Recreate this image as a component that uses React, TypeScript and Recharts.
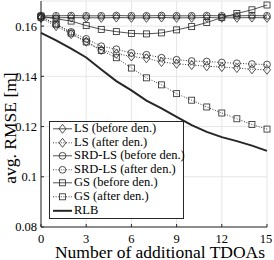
import React from 'react';
import { LineChart, Line, XAxis, YAxis, CartesianGrid, Legend } from 'recharts';

// number of additional TDOAs
const tdoas = [0, 1, 2, 3, 4, 5, 6, 7, 8, 9, 10, 11, 12, 13, 14, 15];

const lsBefore = [0.1634, 0.1633, 0.1634, 0.1633, 0.1633, 0.1634, 0.1633, 0.1633, 0.1634, 0.1633, 0.1633, 0.1634, 0.1633, 0.1633, 0.1634, 0.1633];
const lsAfter = [0.1632, 0.16, 0.1568, 0.1538, 0.1505, 0.149, 0.1479, 0.1472, 0.1457, 0.145, 0.1445, 0.144, 0.1437, 0.1433, 0.1428, 0.1426];
const srdBefore = [0.1641, 0.1641, 0.1642, 0.1641, 0.1641, 0.1642, 0.1641, 0.1641, 0.1642, 0.1641, 0.1641, 0.1642, 0.1641, 0.1641, 0.1642, 0.1641];
const srdAfter = [0.164, 0.1606, 0.1577, 0.1549, 0.152, 0.1508, 0.1493, 0.1486, 0.1474, 0.1466, 0.1461, 0.1459, 0.1455, 0.1452, 0.1449, 0.1447];
const gsBefore = [0.164, 0.1629, 0.162, 0.1602, 0.1587, 0.1578, 0.1571, 0.1569, 0.1573, 0.1585, 0.1598, 0.1614, 0.1634, 0.165, 0.1665, 0.1684];
const gsAfter = [0.1635, 0.1609, 0.1572, 0.1537, 0.1503, 0.1474, 0.1433, 0.1394, 0.1366, 0.1331, 0.1305, 0.1278, 0.1254, 0.1231, 0.1208, 0.119];
const rlb = [0.1573, 0.1543, 0.151, 0.1475, 0.1427, 0.1381, 0.1344, 0.1303, 0.1272, 0.1239, 0.1206, 0.1179, 0.1158, 0.1142, 0.1124, 0.1103];

const xTicks = [0, 3, 6, 9, 12, 15];
const yTicks = [0.08, 0.1, 0.12, 0.14, 0.16];

const FONT = '"Liberation Serif", "Times New Roman", serif';
const INK = '#262626';

type MarkerKind = 'diamond' | 'circle' | 'square' | 'none';

const series: { key: string; name: string; values: number[]; marker: MarkerKind; dotted: boolean; width: number }[] = [
  { key: 'lsB', name: 'LS (before den.)', values: lsBefore, marker: 'diamond', dotted: false, width: 0.8 },
  { key: 'lsA', name: 'LS (after den.)', values: lsAfter, marker: 'diamond', dotted: true, width: 0.9 },
  { key: 'srdB', name: 'SRD-LS (before den.)', values: srdBefore, marker: 'circle', dotted: false, width: 0.8 },
  { key: 'srdA', name: 'SRD-LS (after den.)', values: srdAfter, marker: 'circle', dotted: true, width: 0.9 },
  { key: 'gsB', name: 'GS (before den.)', values: gsBefore, marker: 'square', dotted: false, width: 0.8 },
  { key: 'gsA', name: 'GS (after den.)', values: gsAfter, marker: 'square', dotted: true, width: 0.9 },
  { key: 'rlb', name: 'RLB', values: rlb, marker: 'none', dotted: false, width: 2 },
];

const data = tdoas.map((x, i) => {
  const row: Record<string, number> = { x };
  series.forEach((s) => {
    row[s.key] = s.values[i];
  });
  return row;
});

const Marker = ({ kind, cx, cy }: { kind: MarkerKind; cx?: number; cy?: number }) => {
  if (cx == null || cy == null || kind === 'none') return null;
  if (kind === 'diamond') {
    return (
      <path
        d={`M${cx},${cy - 4.5}L${cx + 3.5},${cy}L${cx},${cy + 4.5}L${cx - 3.5},${cy}Z`}
        fill="none"
        stroke={INK}
        strokeWidth={0.8}
      />
    );
  }
  if (kind === 'circle') {
    return <circle cx={cx} cy={cy} r={3.4} fill="none" stroke={INK} strokeWidth={0.8} />;
  }
  return <rect x={cx - 3} y={cy - 3} width={6} height={6} fill="none" stroke={INK} strokeWidth={0.8} />;
};

// tick labels drawn by hand so the serif font sticks
const XTick = ({ x, payload }: any) => (
  <text x={x} y={243} textAnchor="middle" fontFamily={FONT} fontSize={12.5} fill="#000">
    {payload.value}
  </text>
);

const YTick = ({ y, payload }: any) => (
  <text x={37} y={y + 4.4} textAnchor="end" fontFamily={FONT} fontSize={12.5} fill="#000">
    {String(Number(Number(payload.value).toFixed(2)))}
  </text>
);

const renderLegend = () => (
  <div
    style={{
      width: 135,
      height: 98,
      boxSizing: 'border-box',
      border: `1px solid ${INK}`,
      background: '#fff',
      fontFamily: FONT,
      fontSize: 12.5,
      color: '#000',
    }}
  >
    {series.map((s) => (
      <div key={s.key} style={{ height: 13.6, display: 'flex', alignItems: 'center' }}>
        <svg width={24} height={13.6} style={{ flex: 'none' }}>
          <line
            x1={3}
            x2={22}
            y1={6.8}
            y2={6.8}
            stroke={INK}
            strokeWidth={s.width}
            strokeDasharray={s.dotted ? '1 1.6' : undefined}
          />
          <Marker kind={s.marker} cx={12.5} cy={6.8} />
        </svg>
        <span style={{ whiteSpace: 'nowrap', lineHeight: '13.6px' }}>{s.name}</span>
      </div>
    ))}
  </div>
);

export default function App() {
  return (
    <div style={{ position: 'absolute', left: 0, top: 0, width: 274, height: 260, background: '#fff' }}>
      <LineChart width={274} height={260} data={data} margin={{ top: 1, right: 7, bottom: 0, left: 0 }}>
        <CartesianGrid stroke="#e6e6e6" strokeWidth={1} />
        <XAxis
          dataKey="x"
          type="number"
          domain={[0, 15]}
          ticks={xTicks}
          height={33}
          stroke={INK}
          tickSize={-3}
          tick={<XTick />}
          label={() => (
            <text x={160} y={257.5} textAnchor="middle" fontFamily={FONT} fontSize={17.5} fill="#000">
              Number of additional TDOAs
            </text>
          )}
        />
        <XAxis
          xAxisId="top"
          orientation="top"
          dataKey="x"
          type="number"
          domain={[0, 15]}
          ticks={xTicks}
          height={0}
          stroke={INK}
          tickSize={-3}
          tickFormatter={() => ''}
        />
        <YAxis
          type="number"
          domain={[0.08, 0.17]}
          ticks={yTicks}
          width={41}
          stroke={INK}
          tickSize={-3}
          tick={<YTick />}
          label={() => (
            <text
              transform="translate(16,128) rotate(-90)"
              textAnchor="middle"
              fontFamily={FONT}
              fontSize={17.5}
              fill="#000"
            >
              avg. RMSE [m]
            </text>
          )}
        />
        <YAxis
          yAxisId="right"
          orientation="right"
          type="number"
          domain={[0.08, 0.17]}
          ticks={yTicks}
          width={0}
          stroke="#8c8c8c"
          strokeWidth={1.6}
          tickSize={-3}
          tickFormatter={() => ''}
        />
        {series.map((s) => (
          <Line
            key={s.key}
            dataKey={s.key}
            name={s.name}
            type="linear"
            stroke={INK}
            strokeWidth={s.width}
            strokeDasharray={s.dotted ? '1 1.6' : undefined}
            dot={(p: any) => <Marker key={`${s.key}-${p.index}`} kind={s.marker} cx={p.cx} cy={p.cy} />}
            activeDot={false}
            isAnimationActive={false}
          />
        ))}
        <Legend
          layout="vertical"
          align="center"
          verticalAlign="middle"
          content={renderLegend}
          wrapperStyle={{ left: 49, top: 121, width: 135, height: 98 }}
        />
      </LineChart>
    </div>
  );
}
